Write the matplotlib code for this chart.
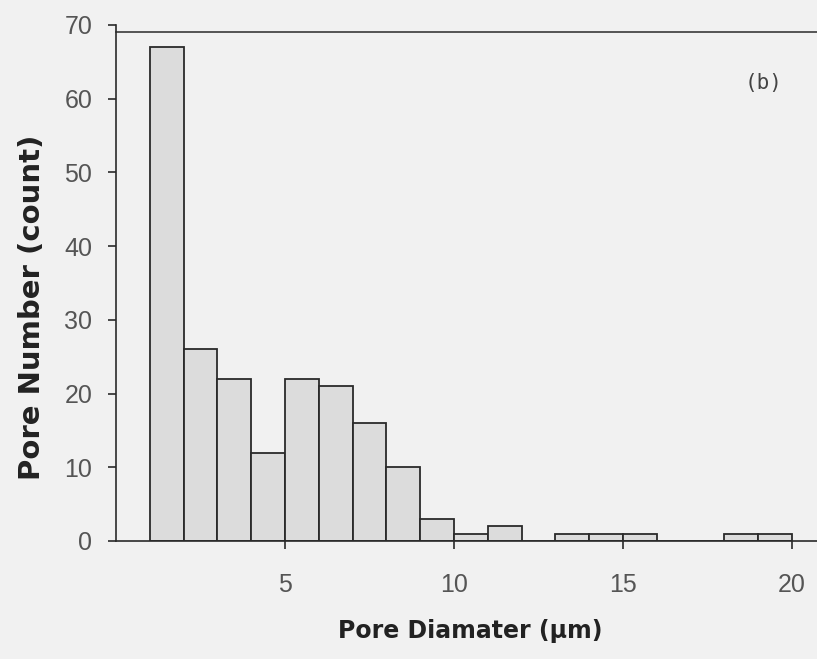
import matplotlib.pyplot as plt
import numpy as np

# histogram bins (1 um wide) and counts
bin_left = np.arange(1, 20)
counts = [67, 26, 22, 12, 22, 21, 16, 10, 3, 1, 2, 0, 1, 1, 1, 0, 0, 1, 1]
x_ticks = [5, 10, 15, 20]
y_ticks = [0, 10, 20, 30, 40, 50, 60, 70]

plt.rcParams['font.family'] = ['Liberation Sans', 'DejaVu Sans']
bg = '#f1f1f1'

fig = plt.figure(figsize=(8.17, 6.59), dpi=100, facecolor=bg)
ax = fig.add_axes([116 / 817, 118 / 659, 1 - 116 / 817, (541 - 25) / 659])
ax.set_facecolor(bg)

ax.bar(bin_left, counts, width=1.0, align='edge', color='#dcdcdc',
       edgecolor='#2a2a2a', linewidth=1.3)

ax.set_xlim(0, 20.74)
ax.set_ylim(0, 70)
ax.set_xticks(x_ticks)
ax.set_yticks(y_ticks)
ax.tick_params(axis='both', direction='out', length=6, width=1.2,
               colors='#2a2a2a', labelcolor='#555555', labelsize=18)
ax.tick_params(axis='y', pad=11)
ax.tick_params(axis='x', pad=17)

for s in ['top', 'right']:
    ax.spines[s].set_visible(False)
for s in ['left', 'bottom']:
    ax.spines[s].set_color('#2a2a2a')
    ax.spines[s].set_linewidth(1.2)

# frame line drawn just under the top of the axis
ax.axhline(69.05, color='#3a3a3a', linewidth=1.2, clip_on=False)

ax.set_xlabel('Pore Diamater (µm)', fontsize=17, fontweight='bold',
              color='#222222', family='DejaVu Sans')
ax.xaxis.set_label_coords(0.505, -0.152)
ax.set_ylabel('Pore Number (count)', fontsize=21, fontweight='bold',
              color='#222222', family='DejaVu Sans')
ax.yaxis.set_label_coords(-0.1, 0.453)

ax.text(0.924, 0.888, '(b)', transform=ax.transAxes, fontsize=15,
        family='DejaVu Sans Mono', color='#444444', ha='center', va='center')

fig.savefig('out.png', dpi=100, facecolor=bg)
